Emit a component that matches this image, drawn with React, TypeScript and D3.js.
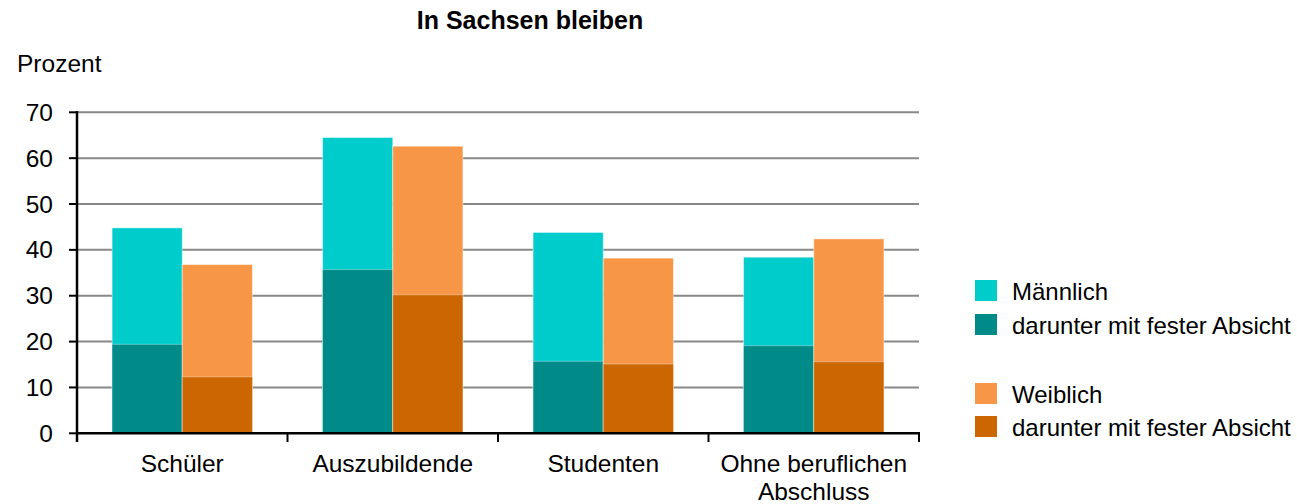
import React from 'react';
import * as d3 from 'd3';

// values (percent)
const categories = ['Schüler', 'Auszubildende', 'Studenten', 'Ohne beruflichen Abschluss'];
const maleTotal = [44.8, 64.5, 43.8, 38.4];
const maleFirm = [19.4, 35.7, 15.7, 19.1];
const femaleTotal = [36.8, 62.6, 38.2, 42.4];
const femaleFirm = [12.3, 30.2, 15.1, 15.6];
const yTicks = [0, 10, 20, 30, 40, 50, 60, 70];

const legendItems = [
  { label: 'Männlich', color: '#00CCCC' },
  { label: 'darunter mit fester Absicht', color: '#008A88' },
  { label: 'Weiblich', color: '#F79646' },
  { label: 'darunter mit fester Absicht', color: '#CC6600' },
];

const W = 1297;
const H = 504;
const font = '"Liberation Sans", Arial, sans-serif';
const fs = 24.5;

export default function App() {
  const x = d3.scaleBand<string>().domain(categories).range([77, 919]);
  const inner = d3
    .scaleBand<string>()
    .domain(['m', 'f'])
    .range([0, x.bandwidth()])
    .paddingOuter(0.5);
  const y = d3.scaleLinear().domain([0, 70]).range([433.3, 112.3]);

  const series = [
    { key: 'm', total: maleTotal, firm: maleFirm, c1: legendItems[0].color, c2: legendItems[1].color },
    { key: 'f', total: femaleTotal, firm: femaleFirm, c1: legendItems[2].color, c2: legendItems[3].color },
  ];

  const legendY = [280, 314, 383, 416];

  return (
    <svg
      width={W}
      height={H}
      style={{ position: 'absolute', left: 0, top: 0, background: '#fff' }}
      fontFamily={font}
    >
      <text x={530} y={29} textAnchor="middle" fontSize={25} fontWeight="bold" fill="#000">
        In Sachsen bleiben
      </text>
      <text x={17} y={72} fontSize={fs} fill="#000">
        Prozent
      </text>

      {/* gridlines */}
      {yTicks.slice(1).map((t) => (
        <line key={t} x1={77} x2={919} y1={y(t)} y2={y(t)} stroke="#888" strokeWidth={2} />
      ))}

      {/* bars */}
      {series.map((s) =>
        categories.map((c, i) => {
          const bx = (x(c) as number) + (inner(s.key) as number);
          const bw = inner.bandwidth();
          return (
            <g key={s.key + c}>
              <rect
                x={bx}
                y={y(s.total[i])}
                width={bw}
                height={y(0) - y(s.total[i])}
                fill={s.c1}
                stroke="rgba(255,255,255,0.45)"
                strokeWidth={1}
              />
              <rect
                x={bx}
                y={y(s.firm[i])}
                width={bw}
                height={y(0) - y(s.firm[i])}
                fill={s.c2}
                stroke="rgba(255,255,255,0.35)"
                strokeWidth={1}
              />
            </g>
          );
        })
      )}

      {/* y axis */}
      <line x1={77} x2={77} y1={111} y2={442} stroke="#000" strokeWidth={2.5} />
      {yTicks.map((t) => (
        <g key={t}>
          <line x1={69} x2={77} y1={y(t)} y2={y(t)} stroke="#000" strokeWidth={2} />
          <text x={53} y={y(t) + 8.5} textAnchor="end" fontSize={fs} fill="#000">
            {t}
          </text>
        </g>
      ))}

      {/* x axis */}
      <line x1={76} x2={920} y1={y(0)} y2={y(0)} stroke="#000" strokeWidth={2.5} />
      {categories.map((c) => (
        <line key={c} x1={x(c)} x2={x(c)} y1={y(0)} y2={442} stroke="#000" strokeWidth={2} />
      ))}
      <line x1={919} x2={919} y1={y(0)} y2={442} stroke="#000" strokeWidth={2} />
      {categories.map((c) => {
        const cx = (x(c) as number) + x.bandwidth() / 2;
        const lines = c === 'Ohne beruflichen Abschluss' ? ['Ohne beruflichen', 'Abschluss'] : [c];
        return (
          <text key={c} x={cx} y={472} textAnchor="middle" fontSize={fs} fill="#000">
            {lines.map((l, j) => (
              <tspan key={j} x={cx} dy={j === 0 ? 0 : 28}>
                {l}
              </tspan>
            ))}
          </text>
        );
      })}

      {/* legend */}
      {legendItems.map((d, i) => (
        <g key={i}>
          <rect x={975} y={legendY[i]} width={22} height={21} fill={d.color} />
          <text x={1012} y={legendY[i] + 20} fontSize={24} fill="#000">
            {d.label}
          </text>
        </g>
      ))}
    </svg>
  );
}
